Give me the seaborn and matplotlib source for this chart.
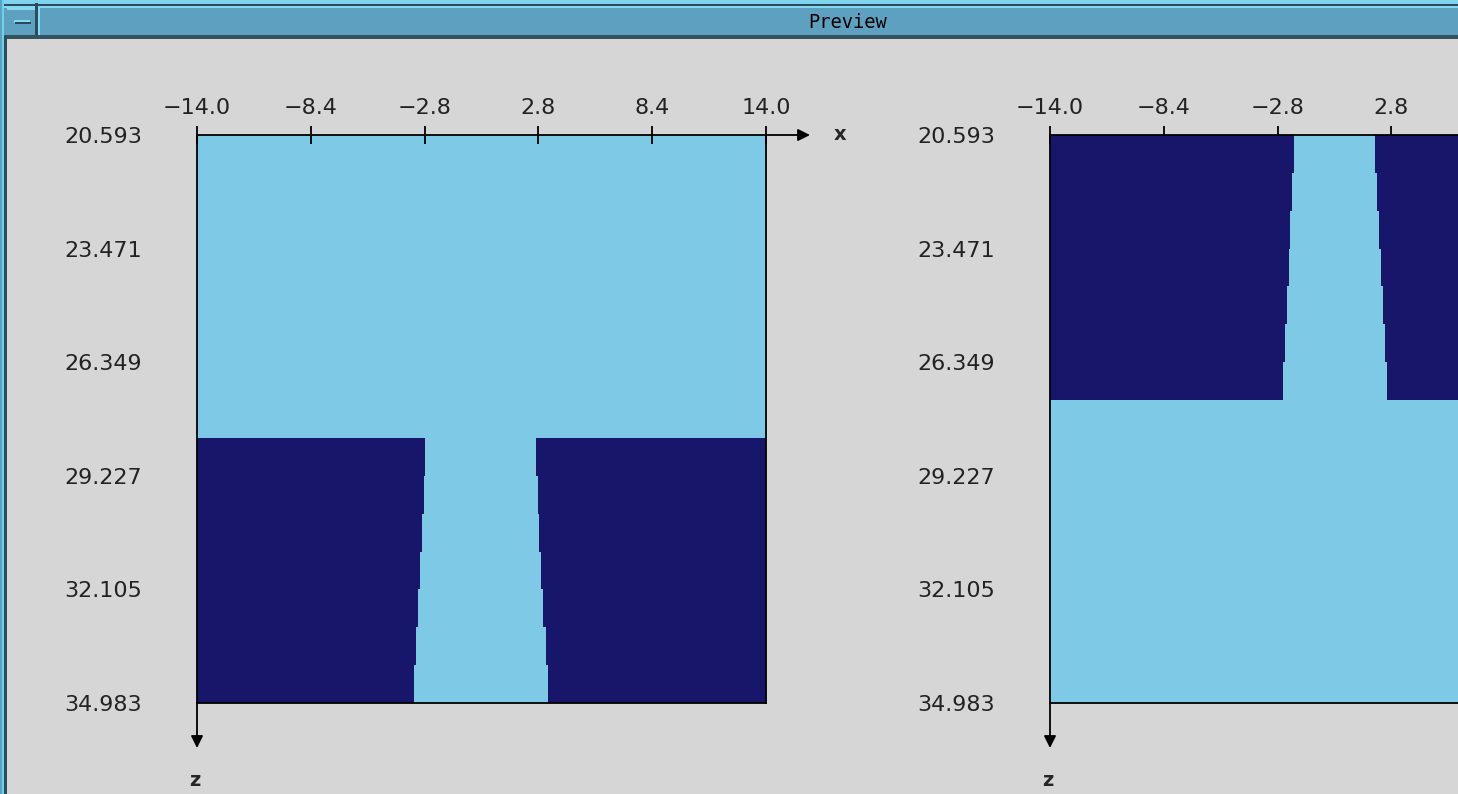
import matplotlib
matplotlib.use("Agg")
import matplotlib.pyplot as plt
from matplotlib.patches import Rectangle
import seaborn as sns

#%% Dados
x_min, x_max = -14.0, 14.0
x_ticks = [-14.0, -8.4, -2.8, 2.8, 8.4, 14.0]
z_ticks = [20.593, 23.471, 26.349, 29.227, 32.105, 34.983]
row_h = 0.9593

# painel esquerdo: camada escura embaixo, com canal claro no meio
left_rows_top = [28.267, 29.226, 30.186, 31.145, 32.104, 33.064, 34.023]
left_gap_l = [-2.76, -2.84, -2.94, -3.04, -3.14, -3.24, -3.32]
left_gap_r = [2.68, 2.77, 2.85, 2.94, 3.04, 3.16, 3.26]

# painel direito: camada escura em cima (janela corta o lado direito)
right_rows_top = [20.593, 21.552, 22.512, 23.471, 24.430, 25.390, 26.349]
right_gap_l = [-1.99, -2.09, -2.17, -2.25, -2.35, -2.45, -2.55]
right_gap_r = [2.01, 2.09, 2.19, 2.29, 2.39, 2.49, 2.57]

light = "#7ecae6"
navy = "#17166b"
gray = "#d6d6d6"

#%% Estilo
sns.set_style("white", rc={"axes.edgecolor": "black", "figure.facecolor": gray})
plt.rcParams["font.family"] = ["DejaVu Sans"]

W, H = 1458, 794
fig = plt.figure(figsize=(W / 100, H / 100), dpi=100)
fig.patch.set_facecolor(gray)


def px_rect(x0, y0, x1, y1, color):
    fig.patches.append(Rectangle((x0 / W, 1 - y1 / H), (x1 - x0) / W, (y1 - y0) / H,
                                 transform=fig.transFigure, facecolor=color,
                                 edgecolor="none", zorder=0))


#%% Moldura da janela
px_rect(0, 0, W, 4, "#7fd3ef")
px_rect(0, 4, W, 6, "#2c4b59")
px_rect(0, 6, W, 8, "#86d9f5")
px_rect(0, 8, W, 35, "#5ea0c0")
px_rect(0, 35, W, 39, "#34535f")
px_rect(0, 0, 2, H, "#5ea0c0")
px_rect(2, 0, 4, H, "#6fcfee")
px_rect(4, 36, 7, H, "#2e4c5a")
px_rect(35, 3, 38, 35, "#2c4b59")
px_rect(38, 8, 40, 35, "#86d9f5")
px_rect(7, 8, 35, 10, "#86d9f5")
px_rect(14, 20, 30, 23, "#86d9f5")
px_rect(15, 22, 31, 24, "#2c4b59")
fig.text(848 / W, 1 - 22 / H, "Preview", family="DejaVu Sans Mono", fontsize=13.5,
         ha="center", va="center", color="black")


#%% Paineis
def painel(left_px, rows_top, gap_l, gap_r, n_xlabels, draw_x_arrow):
    ax = fig.add_axes([left_px / W, 1 - 703 / H, 569 / W, 568 / H])
    ax.set_facecolor(light)
    centers = [t + row_h / 2 for t in rows_top]
    kw = dict(orient="y", native_scale=True, width=1, errorbar=None,
              saturation=1, linewidth=0, ax=ax)
    sns.barplot(x=[x_min] * len(centers), y=centers, color=navy, **kw)
    sns.barplot(x=[x_max] * len(centers), y=centers, color=navy, **kw)
    sns.barplot(x=gap_l, y=centers, color=light, **kw)
    sns.barplot(x=gap_r, y=centers, color=light, **kw)

    ax.set_xlim(x_min, x_max)
    ax.set_ylim(z_ticks[-1], z_ticks[0])
    ax.set_xlabel("")
    ax.set_ylabel("")
    ax.xaxis.tick_top()
    ax.set_xticks(x_ticks)
    labels = [f"{v:.1f}".replace("-", "\u2212") for v in x_ticks]
    labels = [lab if i < n_xlabels else "" for i, lab in enumerate(labels)]
    ax.set_xticklabels(labels)
    ax.set_yticks(z_ticks)
    ax.set_yticklabels([f"{v:.3f}" for v in z_ticks])
    ax.tick_params(axis="x", direction="inout", length=13, width=1.3, pad=6,
                   labelsize=16, colors="black", labelcolor="#222222",
                   top=True, bottom=False)
    ax.tick_params(axis="y", direction="inout", length=13, width=1.3, pad=33,
                   labelsize=16, colors="black", labelcolor="#222222")
    for s in ax.spines.values():
        s.set_visible(True)
        s.set_color("black")
        s.set_linewidth(1.3)

    ap = dict(arrowstyle="-|>", color="black", lw=1.3, mutation_scale=18,
              shrinkA=0, shrinkB=0)
    if draw_x_arrow:
        ax.annotate("", xy=(1 + 44 / 569, 1), xytext=(1, 1), xycoords="axes fraction",
                    arrowprops=ap, annotation_clip=False)
        ax.text(1 + 74 / 569, 1, "x", transform=ax.transAxes, fontsize=14,
                fontweight="bold", ha="center", va="center")
    ax.annotate("", xy=(0, -45 / 568), xytext=(0, 0), xycoords="axes fraction",
                arrowprops=ap, annotation_clip=False)
    ax.text(-2 / 569, -77 / 568, "z", transform=ax.transAxes, fontsize=14,
            fontweight="bold", ha="center", va="center")
    return ax


painel(197, left_rows_top, left_gap_l, left_gap_r, 6, True)
painel(1050, right_rows_top, right_gap_l, right_gap_r, 4, False)

fig.savefig("out.png", dpi=100, facecolor=gray)
